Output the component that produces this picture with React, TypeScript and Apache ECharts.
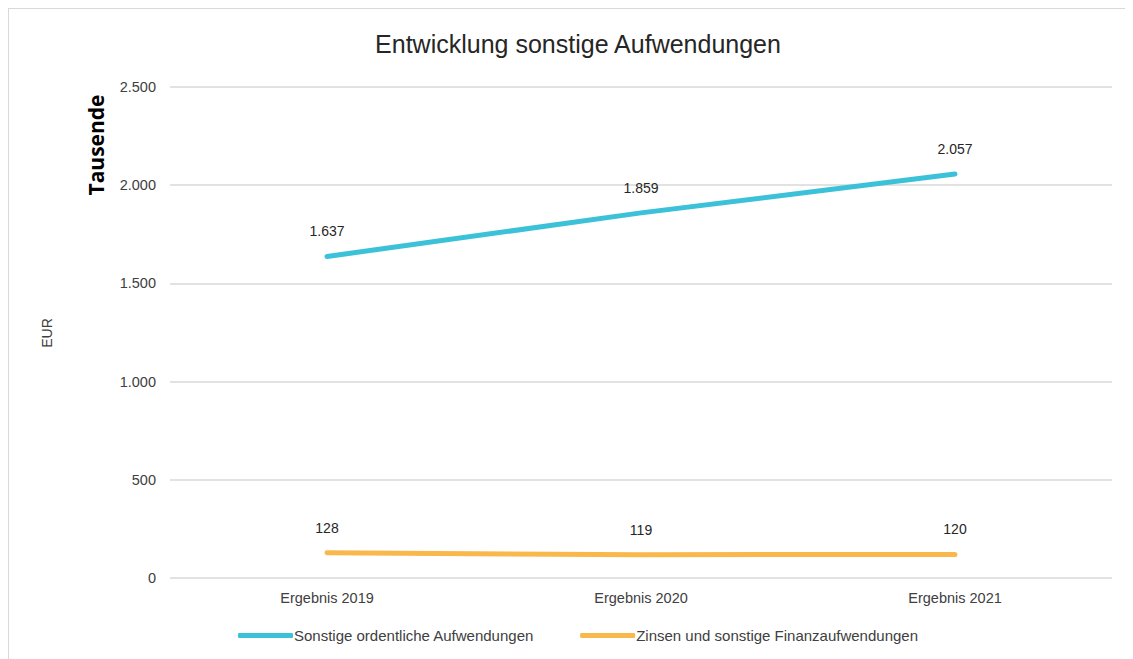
import React, { useEffect, useRef } from "react";
import * as echarts from "echarts";

const categories = ["Ergebnis 2019", "Ergebnis 2020", "Ergebnis 2021"];
const seriesNames = ["Sonstige ordentliche Aufwendungen", "Zinsen und sonstige Finanzaufwendungen"];
const sonstigeValues = [1637, 1859, 2057];
const zinsenValues = [128, 119, 120];
const colors = ["#3BC1D8", "#F9B84C"];

const fmt = (v: number) => {
  const s = Math.round(v).toString();
  return s.replace(/\B(?=(\d{3})+(?!\d))/g, ".");
};

export default function App() {
  const ref = useRef<HTMLDivElement>(null);
  useEffect(() => {
    if (!ref.current) return;
    const chart = echarts.init(ref.current, null, { renderer: "svg" });
    const font = "Liberation Sans, Arial, sans-serif";
    const mkSeries = (name: string, data: number[], color: string) => ({
      name,
      type: "line",
      data,
      symbol: "circle",
      symbolSize: 0.1,
      showSymbol: true,
      color,
      itemStyle: { color },
      lineStyle: { width: 5, color, cap: "round" },
      label: {
        show: true,
        position: "top",
        distance: 18,
        fontSize: 14,
        color: "#262626",
        formatter: (p: any) => fmt(p.value),
      },
    });
    chart.setOption({
      animation: false,
      textStyle: { fontFamily: font },
      title: {
        text: "Entwicklung sonstige Aufwendungen",
        left: "center",
        top: 17,
        textStyle: { fontSize: 25, fontWeight: "normal", color: "#262626", fontFamily: font },
      },
      grid: { left: 161, right: 35, top: 78, bottom: 89 },
      legend: {
        bottom: 19,
        left: "center",
        itemWidth: 55,
        itemHeight: 5,
        itemGap: 46,
        icon: "roundRect",
        textStyle: { fontSize: 15, color: "#404040", fontFamily: font, padding: [0, 0, 0, -4] },
        data: seriesNames,
      },
      xAxis: {
        type: "category",
        data: categories,
        boundaryGap: true,
        axisLine: { show: false },
        axisTick: { show: false },
        axisLabel: { fontSize: 14.5, color: "#404040", margin: 12 },
      },
      yAxis: {
        type: "value",
        min: 0,
        max: 2500,
        interval: 500,
        axisLine: { show: false },
        axisTick: { show: false },
        splitLine: { lineStyle: { color: "#d9d9d9", width: 1.5 } },
        axisLabel: { fontSize: 14.5, color: "#404040", margin: 14, formatter: (v: number) => fmt(v) },
      },
      graphic: [
        {
          type: "text",
          x: 87,
          y: 136,
          rotation: Math.PI / 2,
          style: {
            text: "Tausende",
            font: "bold 21px 'Open Sans', sans-serif",
            fill: "#000",
            textAlign: "center",
            textVerticalAlign: "middle",
          },
        },
        {
          type: "text",
          x: 38,
          y: 324,
          rotation: Math.PI / 2,
          style: {
            text: "EUR",
            font: "14px " + font,
            fill: "#404040",
            textAlign: "center",
            textVerticalAlign: "middle",
          },
        },
      ],
      series: [
        mkSeries(seriesNames[0], sonstigeValues, colors[0]),
        mkSeries(seriesNames[1], zinsenValues, colors[1]),
      ],
    });
    return () => chart.dispose();
  }, []);
  return (
    <div style={{ border: "1px solid #d9d9d9", width: 1140, height: 660, boxSizing: "border-box" }}>
      <div ref={ref} style={{ width: 1138, height: 658 }} />
    </div>
  );
}
